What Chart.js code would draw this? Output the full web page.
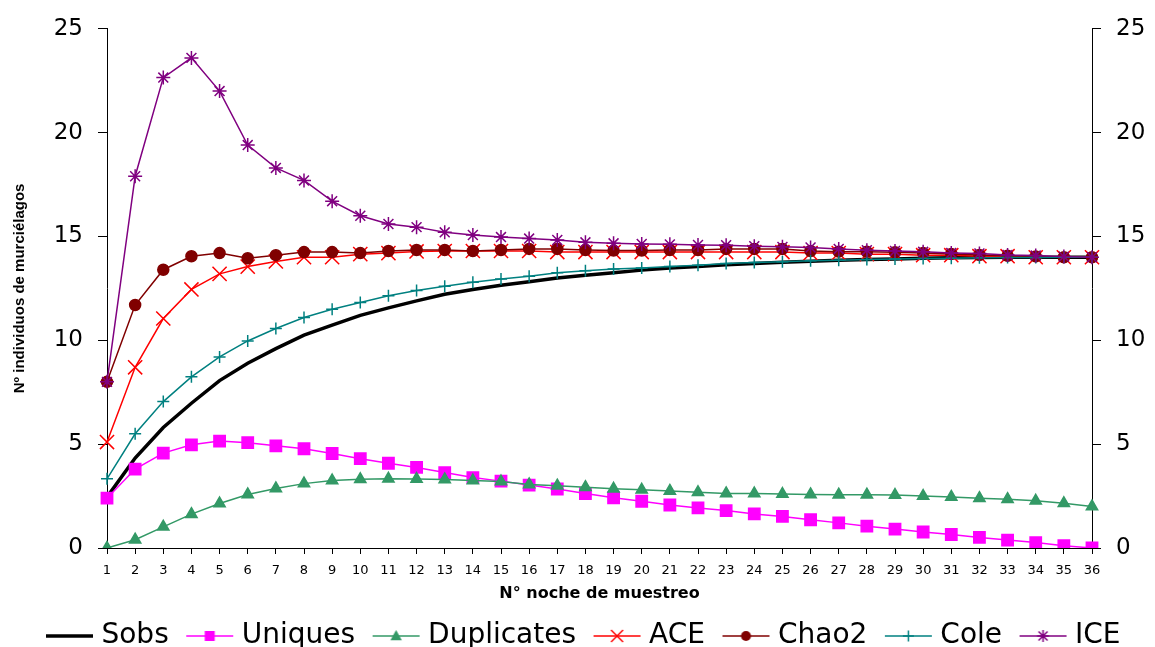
<!DOCTYPE html>
<html>
<head>
<meta charset="utf-8">
<script src="https://cdn.jsdelivr.net/npm/chart.js@4.4.0/dist/chart.umd.min.js"></script>
<style>
  html, body { margin: 0; padding: 0; background: #fff; }
  #wrap { width: 1155px; height: 647px; position: relative; }
</style>
</head>
<body>
<div id="wrap"><canvas id="chart"></canvas></div>
<script>
// -----------------------------
// Data
// -----------------------------
const nights = ['1', '2', '3', '4', '5', '6', '7', '8', '9', '10', '11', '12',
    '13', '14', '15', '16', '17', '18', '19', '20', '21', '22', '23', '24',
    '25', '26', '27', '28', '29', '30', '31', '32', '33', '34', '35', '36'];

const sobs = [2.45, 4.33, 5.8, 6.97, 8.06, 8.9, 9.6, 10.25, 10.73, 11.2, 11.56, 11.9,
    12.22, 12.45, 12.65, 12.82, 13.0, 13.13, 13.25, 13.38, 13.48, 13.56, 13.64, 13.7,
    13.76, 13.81, 13.86, 13.89, 13.92, 13.95, 13.97, 13.99, 14.0, 14.0, 14.0, 14.0];

const uniques = [2.4, 3.8, 4.57, 4.97, 5.15, 5.07, 4.92, 4.78, 4.55, 4.3, 4.08, 3.88,
    3.63, 3.39, 3.22, 3.03, 2.84, 2.62, 2.42, 2.25, 2.07, 1.93, 1.8, 1.64,
    1.52, 1.36, 1.21, 1.05, 0.91, 0.77, 0.65, 0.51, 0.38, 0.26, 0.11, 0];

const duplicates = [0, 0.4, 1.02, 1.63, 2.14, 2.58, 2.87, 3.1, 3.25, 3.31, 3.33, 3.32,
    3.3, 3.25, 3.2, 3.06, 3.0, 2.93, 2.85, 2.8, 2.75, 2.68, 2.63, 2.62,
    2.6, 2.58, 2.57, 2.57, 2.55, 2.5, 2.46, 2.4, 2.35, 2.27, 2.15, 2.0];

const ace = [5.1, 8.7, 11.05, 12.45, 13.2, 13.55, 13.8, 14.0, 14.0, 14.15, 14.2, 14.28,
    14.3, 14.3, 14.3, 14.3, 14.25, 14.25, 14.25, 14.25, 14.25, 14.25, 14.25, 14.25,
    14.25, 14.2, 14.2, 14.15, 14.15, 14.1, 14.1, 14.05, 14.05, 14.0, 14.0, 14.0];

const chao2 = [8.0, 11.7, 13.4, 14.05, 14.2, 13.95, 14.1, 14.25, 14.25, 14.2, 14.3, 14.35,
    14.35, 14.3, 14.35, 14.4, 14.4, 14.35, 14.32, 14.32, 14.35, 14.35, 14.4, 14.4,
    14.4, 14.3, 14.27, 14.26, 14.24, 14.2, 14.16, 14.11, 14.07, 14.04, 14.0, 14.0];

const cole = [3.33, 5.5, 7.05, 8.24, 9.2, 9.97, 10.57, 11.1, 11.5, 11.82, 12.15, 12.4,
    12.6, 12.8, 12.95, 13.08, 13.25, 13.35, 13.43, 13.48, 13.56, 13.62, 13.7, 13.75,
    13.78, 13.83, 13.86, 13.89, 13.92, 13.94, 13.95, 13.97, 13.99, 13.99, 14.0, 14.0];

const ice = [8.0, 17.9, 22.65, 23.6, 22.0, 19.4, 18.3, 17.7, 16.7, 16.0, 15.6, 15.45,
    15.2, 15.07, 14.97, 14.9, 14.83, 14.72, 14.67, 14.64, 14.62, 14.59, 14.58, 14.53,
    14.5, 14.47, 14.4, 14.34, 14.3, 14.26, 14.21, 14.18, 14.11, 14.08, 14.03, 14.0];

const yTicks = [0, 5, 10, 15, 20, 25];

// -----------------------------
// Legend icons (line + marker)
// -----------------------------
function drawMarker(g, style, x, y, r, color) {
    g.save();
    g.strokeStyle = color;
    g.fillStyle = color;
    g.lineWidth = 1.5;
    g.beginPath();
    if (style === 'rect') {
        g.fillRect(x - r, y - r, 2 * r, 2 * r);
    } else if (style === 'triangle') {
        g.moveTo(x, y - r);
        g.lineTo(x + r * 0.95, y + r * 0.7);
        g.lineTo(x - r * 0.95, y + r * 0.7);
        g.closePath();
        g.fill();
    } else if (style === 'circle') {
        g.arc(x, y, r, 0, Math.PI * 2);
        g.fill();
    } else if (style === 'cross') {
        g.moveTo(x - r, y); g.lineTo(x + r, y);
        g.moveTo(x, y - r); g.lineTo(x, y + r);
        g.stroke();
    } else if (style === 'crossRot') {
        g.moveTo(x - r, y - r); g.lineTo(x + r, y + r);
        g.moveTo(x - r, y + r); g.lineTo(x + r, y - r);
        g.stroke();
    } else if (style === 'star') {
        g.moveTo(x - r, y); g.lineTo(x + r, y);
        g.moveTo(x, y - r); g.lineTo(x, y + r);
        g.moveTo(x - r * 0.75, y - r * 0.75); g.lineTo(x + r * 0.75, y + r * 0.75);
        g.moveTo(x - r * 0.75, y + r * 0.75); g.lineTo(x + r * 0.75, y - r * 0.75);
        g.stroke();
    }
    g.restore();
}

function legendIcon(color, lineWidth, style, r) {
    const c = document.createElement('canvas');
    c.width = 66;
    c.height = 30;
    const g = c.getContext('2d');
    g.strokeStyle = color;
    g.lineWidth = lineWidth;
    g.beginPath();
    g.moveTo(18, 15);
    g.lineTo(65, 15);
    g.stroke();
    if (style) drawMarker(g, style, 41.5, 15, r, color);
    return c;
}

// -----------------------------
// Series styles
// -----------------------------
function series(label, data, color, width, style, radius, order) {
    return {
        label: label,
        data: data,
        borderColor: color,
        backgroundColor: color,
        borderWidth: width,
        pointStyle: style || false,
        pointRadius: style ? radius : 0,
        pointBorderWidth: 1.5,
        pointBackgroundColor: color,
        pointBorderColor: color,
        tension: 0,
        order: order,
        yAxisID: 'y'
    };
}

const datasets = [
    series('Sobs', sobs, '#000000', 3.5, null, 0, 6),
    series('Uniques', uniques, '#FF00FF', 1.5, 'rect', 8, 5),
    series('Duplicates', duplicates, '#339966', 1.5, 'triangle', 6.5, 4),
    series('ACE', ace, '#FF0000', 1.5, 'crossRot', 10, 3),
    series('Chao2', chao2, '#800000', 1.5, 'circle', 5.5, 2),
    series('Cole', cole, '#008080', 1.5, 'cross', 6, 1),
    series('ICE', ice, '#800080', 1.5, 'star', 7, 0)
];

const icons = [
    legendIcon('#000000', 3.5, null, 0),
    legendIcon('#FF00FF', 1.5, 'rect', 5),
    legendIcon('#339966', 1.5, 'triangle', 6),
    legendIcon('#FF0000', 1.5, 'crossRot', 6),
    legendIcon('#800000', 1.5, 'circle', 5),
    legendIcon('#008080', 1.5, 'cross', 5.5),
    legendIcon('#800080', 1.5, 'star', 6)
];

// -----------------------------
// Chart
// -----------------------------
const yAxis = (position, width) => ({
    type: 'linear',
    position: position,
    min: 0,
    max: 25,
    afterBuildTicks: s => { s.ticks = yTicks.map(v => ({ value: v })); },
    afterFit: s => { s.width = width; },
    border: { color: '#000', width: 1 },
    grid: { drawOnChartArea: false, drawTicks: true, tickLength: 9, color: '#000' },
    ticks: { color: '#000', padding: 15, font: { family: 'DejaVu Sans', size: 23 } }
});

new Chart(document.getElementById('chart'), {
    type: 'line',
    data: { labels: nights, datasets: datasets },
    options: {
        responsive: true,
        maintainAspectRatio: false,
        devicePixelRatio: 1,
        animation: false,
        layout: { padding: { top: 23, bottom: -13, left: 0, right: 0 } },
        scales: {
            x: {
                type: 'category',
                offset: false,
                afterFit: s => { s.height = 68; },
                border: { color: '#000', width: 1 },
                grid: { drawOnChartArea: false, drawTicks: true, tickLength: 6, color: '#000' },
                ticks: { color: '#000', padding: 9, maxRotation: 0, autoSkip: false,
                    font: { family: 'DejaVu Sans', size: 13 } },
                title: {
                    display: true,
                    text: 'N° noche de muestreo',
                    color: '#000',
                    padding: { top: 0, bottom: 13 },
                    font: { family: 'DejaVu Sans', size: 16, weight: 'bold' }
                }
            },
            y: Object.assign(yAxis('left', 107), {
                title: {
                    display: true,
                    text: 'Nº individuos de murciélagos',
                    color: '#000',
                    padding: { top: 11, bottom: 0 },
                    font: { family: 'Liberation Sans', size: 15, weight: 'bold' }
                }
            }),
            y2: yAxis('right', 63)
        },
        plugins: {
            tooltip: { enabled: false },
            legend: {
                position: 'bottom',
                labels: {
                    usePointStyle: true,
                    pointStyleWidth: 53,
                    padding: 6,
                    color: '#000',
                    font: { family: 'DejaVu Sans', size: 28 },
                    generateLabels: chart => chart.data.datasets.map((ds, i) => ({
                        text: ds.label,
                        pointStyle: icons[i],
                        fillStyle: 'transparent',
                        strokeStyle: 'transparent',
                        lineWidth: 0,
                        hidden: false,
                        datasetIndex: i,
                        fontColor: '#000'
                    }))
                }
            }
        }
    }
});
</script>
</body>
</html>
